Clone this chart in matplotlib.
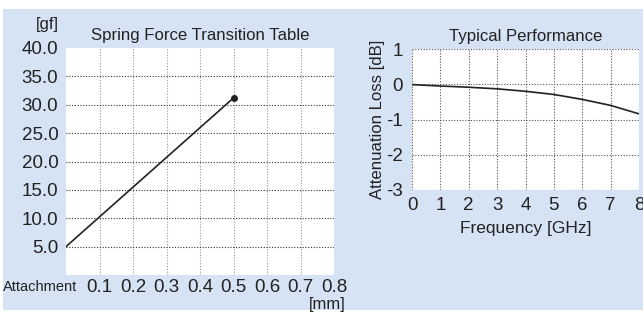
import matplotlib
matplotlib.use("Agg")
import matplotlib.pyplot as plt
from matplotlib.patches import Rectangle

plt.rcParams["font.family"] = ["Liberation Sans", "DejaVu Sans"]
plt.rcParams["axes.unicode_minus"] = False

# spring force data
stroke_mm = [0.0, 0.5]
force_gf = [5.0, 31.2]
force_ticks = [5, 10, 15, 20, 25, 30, 35, 40]
stroke_ticks = [0.1, 0.2, 0.3, 0.4, 0.5, 0.6, 0.7, 0.8]

# attenuation data
freq_ghz = [0, 1, 2, 3, 4, 5, 6, 7, 8]
loss_db = [-0.01, -0.05, -0.085, -0.13, -0.2, -0.29, -0.43, -0.6, -0.84]

W, H = 643, 313
BG = "#d5e3f4"
TXT = "#222222"

fig = plt.figure(figsize=(W / 100, H / 100), dpi=100)
fig.patch.set_facecolor("white")
fig.add_artist(Rectangle((3 / W, 1 - 310 / H), 640 / W, 301 / H,
                         transform=fig.transFigure, facecolor=BG,
                         edgecolor="none", zorder=0))


def axes_px(l, t, r, b):
    return fig.add_axes([l / W, 1 - b / H, (r - l) / W, (b - t) / H])


def style(ax):
    ax.set_facecolor("white")
    for s in ax.spines.values():
        s.set_visible(False)
    ax.tick_params(length=0, labelsize=13.5, colors=TXT)
    ax.tick_params(axis="y", pad=5.5)
    ax.tick_params(axis="x", pad=3)


# ----- left: spring force -----
ax1 = axes_px(66, 48, 334, 275)
style(ax1)
ax1.set_xlim(0, 0.8)
ax1.set_ylim(0, 40)
ax1.set_xticks(stroke_ticks)
ax1.set_xticklabels([f"{v:.1f}" for v in stroke_ticks])
ax1.set_yticks(force_ticks)
ax1.set_yticklabels([f"{v:.1f}" for v in force_ticks])
for v in stroke_ticks[:-1]:
    ax1.axvline(v, color="#999999", lw=0.8, ls=(0, (1, 1.5)), zorder=1)
for v in force_ticks[:-1]:
    ax1.axhline(v, color="#333333", lw=0.8, ls=(0, (1, 1.5)), zorder=1)
ax1.plot(stroke_mm, force_gf, color="#222222", lw=1.2, zorder=3)
ax1.plot(stroke_mm[-1], force_gf[-1], "o", color="#222222", ms=4, zorder=4)
ax1.set_title("Spring Force Transition Table", fontsize=12.1, color=TXT, pad=6)
fig.text(47 / W, 1 - 25 / H, "[gf]", ha="center", va="center",
         fontsize=12, color=TXT)
fig.text(77 / W, 1 - 287 / H, "Attachment", ha="right", va="center",
         fontsize=10.5, color=TXT)
fig.text(346 / W, 1 - 305 / H, "[mm]", ha="right", va="center",
         fontsize=12, color=TXT)

# ----- right: attenuation -----
ax2 = axes_px(412, 49, 639, 190)
style(ax2)
ax2.tick_params(axis="y", pad=6.5)
ax2.tick_params(axis="x", pad=5)
ax2.set_xlim(0, 8)
ax2.set_ylim(-3, 1)
ax2.set_xticks(freq_ghz)
ax2.set_yticks([-3, -2, -1, 0, 1])
ax2.grid(True, color="#555555", lw=0.8, ls=(0, (1, 1.5)))
ax2.set_axisbelow(True)
ax2.plot(freq_ghz, loss_db, color="#222222", lw=1.2)
ax2.set_title("Typical Performance", fontsize=12.1, color=TXT, pad=6)
ax2.set_xlabel("Frequency [GHz]", fontsize=12.5, color=TXT, labelpad=5)
ax2.set_ylabel("Attenuation Loss [dB]", fontsize=12.1, color=TXT, labelpad=1)

fig.savefig("out.png", dpi=100)
